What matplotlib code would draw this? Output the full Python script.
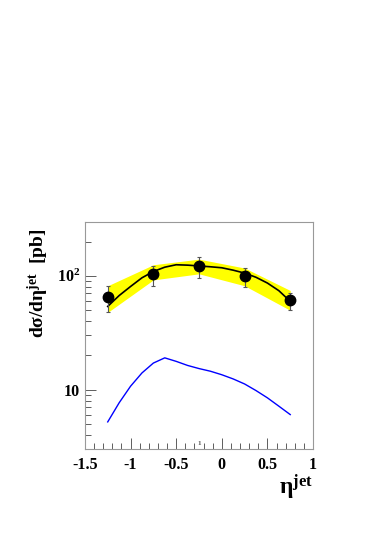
import numpy as np
import matplotlib.pyplot as plt
from matplotlib.ticker import FixedLocator, FixedFormatter, NullFormatter

# Puntos de datos
eta_pts = [-1.25, -0.75, -0.25, 0.25, 0.75]
sigma_pts = [65.5, 103.5, 122, 98.6, 61.2]
err_hi = [81.7, 123, 147, 118, 70.5]
err_lo = [48.3, 81.7, 95.5, 79.5, 50]

# Banda amarilla (incertidumbre teorica)
band_top = [81.7, 125, 140, 117, 74.3]
band_bot = [47.7, 92, 104, 81.7, 49.7]

# Curvas teoricas
eta_curve = [-1.25, -1.125, -1.0, -0.875, -0.75, -0.625, -0.5, -0.375, -0.25,
             -0.125, 0.0, 0.125, 0.25, 0.375, 0.5, 0.625, 0.75]
black_curve = [53.8, 67, 80.5, 96, 109, 119, 125, 124, 122,
               120, 117.6, 112, 105.6, 97, 86.3, 74, 59.6]
blue_curve = [5.2, 7.65, 10.7, 14.0, 17.1, 19.0, 17.7, 16.3, 15.3,
              14.5, 13.5, 12.4, 11.2, 9.8, 8.46, 7.15, 6.03]

plt.rcParams['font.family'] = ['Liberation Serif', 'DejaVu Serif']
plt.rcParams['font.weight'] = 'bold'
plt.rcParams['mathtext.fontset'] = 'custom'
plt.rcParams['mathtext.rm'] = 'Liberation Serif:bold'
plt.rcParams['mathtext.it'] = 'Liberation Serif:bold'

fig = plt.figure(figsize=(3.86, 5.45), dpi=100)
ax = fig.add_axes([0.220, 0.176, 0.591, 0.417])

ax.fill_between(eta_pts, band_bot, band_top, color='#ffff00', linewidth=0, zorder=1)
ax.plot(eta_curve, black_curve, color='black', lw=1.2, zorder=3)
ax.plot(eta_curve, blue_curve, color='#0000ff', lw=1.0, zorder=3)

yerr = [np.array(sigma_pts) - np.array(err_lo), np.array(err_hi) - np.array(sigma_pts)]
ax.errorbar(eta_pts, sigma_pts, yerr=yerr, fmt='o', color='black', ms=7.5,
            ecolor='#555555', elinewidth=0.8, capsize=1.5, capthick=0.8, zorder=4)

ax.set_yscale('log')
ax.set_xlim(-1.5, 1.0)
ax.set_ylim(3.0, 298)

# Ticks
ax.xaxis.set_major_locator(FixedLocator([-1.5, -1, -0.5, 0, 0.5, 1]))
ax.xaxis.set_major_formatter(FixedFormatter(['-1.5', '-1', '-0.5', '0', '0.5', '1']))
ax.xaxis.set_minor_locator(FixedLocator(np.arange(-1.4, 1.0, 0.1)))
ax.yaxis.set_major_locator(FixedLocator([10, 100]))
ax.yaxis.set_major_formatter(FixedFormatter(['10', '10$^{2}$']))
ax.yaxis.set_minor_locator(FixedLocator([3, 4, 5, 6, 7, 8, 9, 20, 30, 40, 50, 60, 70, 80, 90, 200]))
ax.yaxis.set_minor_formatter(NullFormatter())
ax.tick_params(which='both', direction='in', top=False, right=False,
               colors='#444444', labelcolor='black', labelsize=11.5, width=0.6)
ax.tick_params(which='major', length=8)
ax.tick_params(which='minor', length=4)
ax.tick_params(axis='x', pad=6)
for s in ax.spines.values():
    s.set_color('#999999')
    s.set_linewidth(0.8)
for lab in ax.get_xticklabels() + ax.get_yticklabels():
    lab.set_fontweight('bold')

# Etiquetas
ax.set_ylabel('d\u03c3/d\u03b7$^{\\rm jet}$  [pb]', fontsize=14, fontweight='bold')
ax.yaxis.set_label_coords(-0.15, 0.73)
ax.text(1.0, -0.105, '\u03b7$^{\\rm jet}$', transform=ax.transAxes, ha='right', va='top',
        fontsize=17, fontweight='bold')
ax.text(-0.25, 3.2, '1', fontsize=5, color='#555555', ha='center', va='bottom')

fig.savefig('out.png', dpi=100)
